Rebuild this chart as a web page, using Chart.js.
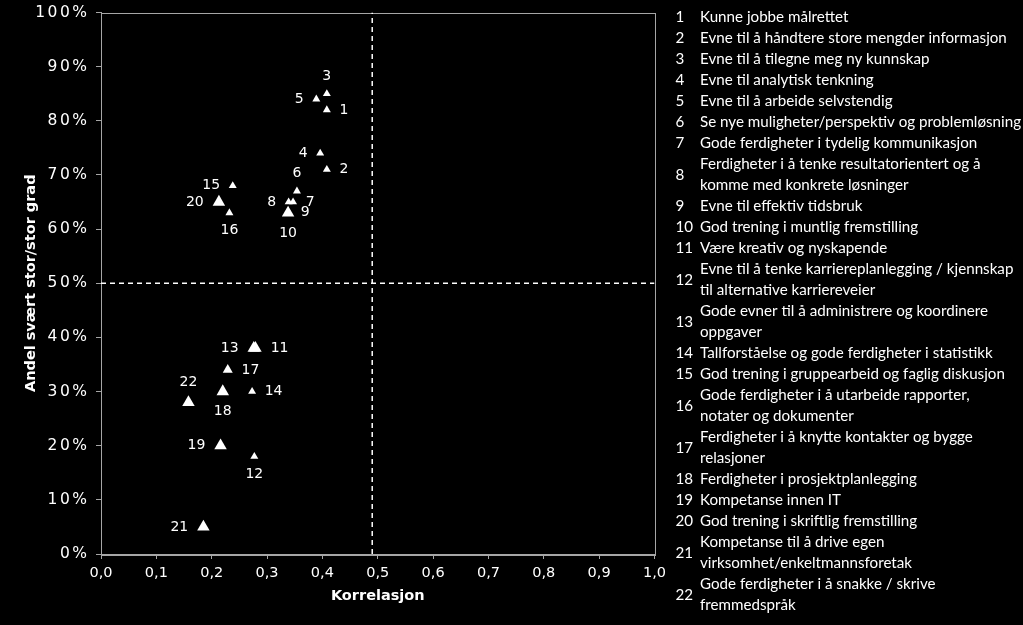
<!DOCTYPE html>
<html>
<head>
<meta charset="utf-8">
<title>Korrelasjon og andel</title>
<script src="https://cdn.jsdelivr.net/npm/chart.js@4"></script>
<style>
  body { margin: 0; background: #000; }
  #wrap { width: 1023px; height: 625px; }
</style>
</head>
<body>
<div id="wrap"><canvas id="chart"></canvas></div>
<script>
// data
const items = [
    'Kunne jobbe målrettet',
    'Evne til å håndtere store mengder informasjon',
    'Evne til å tilegne meg ny kunnskap',
    'Evne til analytisk tenkning',
    'Evne til å arbeide selvstendig',
    'Se nye muligheter/perspektiv og problemløsning',
    'Gode ferdigheter i tydelig kommunikasjon',
    'Ferdigheter i å tenke resultatorientert og å\nkomme med konkrete løsninger',
    'Evne til effektiv tidsbruk',
    'God trening i muntlig fremstilling',
    'Være kreativ og nyskapende',
    'Evne til å tenke karriereplanlegging / kjennskap\ntil alternative karriereveier',
    'Gode evner til å administrere og koordinere\noppgaver',
    'Tallforståelse og gode ferdigheter i statistikk',
    'God trening i gruppearbeid og faglig diskusjon',
    'Gode ferdigheter i å utarbeide rapporter,\nnotater og dokumenter',
    'Ferdigheter i å knytte kontakter og bygge\nrelasjoner',
    'Ferdigheter i prosjektplanlegging',
    'Kompetanse innen IT',
    'God trening i skriftlig fremstilling',
    'Kompetanse til å drive egen\nvirksomhet/enkeltmannsforetak',
    'Gode ferdigheter i å snakke / skrive\nfremmedspråk'
];
const korrelasjon = [0.408, 0.408, 0.408, 0.396, 0.389, 0.354, 0.347, 0.339, 0.338, 0.338, 0.279,
    0.277, 0.276, 0.273, 0.238, 0.232, 0.229, 0.220, 0.216, 0.213, 0.185, 0.158];
const andel = [82, 71, 85, 74, 84, 67, 65, 65, 63, 63, 38, 18, 38, 30, 68, 63, 34, 30, 20, 65, 5, 28];

// dashed dividers
const skilleX = 0.49;
const skilleY = 50;

const xTicks = [0, 0.1, 0.2, 0.3, 0.4, 0.5, 0.6, 0.7, 0.8, 0.9, 1.0];
const yTicks = [0, 10, 20, 30, 40, 50, 60, 70, 80, 90, 100];

// marker sizes and where each number sits
const bigMarkers = [10, 11, 13, 18, 19, 20, 21, 22];
const midMarkers = [17];
const labelPos = ['right', 'right', 'above', 'left', 'left', 'above', 'right', 'left', 'right', 'below',
    'right', 'below', 'left', 'right', 'left', 'below', 'right', 'below', 'left', 'left', 'left', 'above'];

const radiusFor = (n) => bigMarkers.includes(n) ? 7.2 : (midMarkers.includes(n) ? 5.8 : 4.6);

const axisColor = '#a6a6a6';
Chart.defaults.font.family = '"DejaVu Sans", Verdana, sans-serif';
Chart.defaults.color = '#fff';

// frame around the plot area
const frame = {
    id: 'frame',
    beforeDatasetsDraw(chart) {
        const a = chart.chartArea;
        const ctx = chart.ctx;
        ctx.save();
        ctx.strokeStyle = axisColor;
        ctx.lineWidth = 1;
        ctx.strokeRect(Math.round(a.left) + 0.5, Math.round(a.top) + 0.5,
            Math.round(a.right - a.left), Math.round(a.bottom - a.top));
        ctx.restore();
    }
};

// y tick labels are a bit looser in the original, so draw them here
const yLabels = {
    id: 'yLabels',
    afterDraw(chart) {
        const y = chart.scales.y;
        const ctx = chart.ctx;
        ctx.save();
        ctx.font = '15.5px "DejaVu Sans"';
        ctx.fillStyle = '#fff';
        ctx.textAlign = 'right';
        ctx.textBaseline = 'middle';
        ctx.letterSpacing = '2.5px';
        yTicks.forEach(v => {
            ctx.fillText(v + '%', 89.5, y.getPixelForValue(v));
        });
        ctx.restore();
    }
};

// numbers next to the triangles
const pointNumbers = {
    id: 'pointNumbers',
    afterDatasetsDraw(chart) {
        const meta = chart.getDatasetMeta(0);
        const ctx = chart.ctx;
        ctx.save();
        ctx.font = '14px "DejaVu Sans"';
        ctx.fillStyle = '#fff';
        ctx.textAlign = 'center';
        ctx.textBaseline = 'middle';
        meta.data.forEach((pt, i) => {
            const n = i + 1;
            const txt = String(n);
            const r = radiusFor(n);
            const w = ctx.measureText(txt).width;
            let x = pt.x, y = pt.y;
            if (labelPos[i] === 'right') x += r + 8 + w / 2;
            if (labelPos[i] === 'left') x -= r + 8 + w / 2;
            if (labelPos[i] === 'above') y -= r + 13;
            if (labelPos[i] === 'below') y += r + 13;
            ctx.fillText(txt, x, y);
        });
        ctx.restore();
    }
};

// the numbered list on the right
const itemList = {
    id: 'itemList',
    afterDraw(chart) {
        const ctx = chart.ctx;
        const family = 'Lato, "Open Sans", sans-serif';
        ctx.save();
        ctx.font = '15px ' + family;
        const size = 15 * 321 / ctx.measureText(items[5]).width;
        ctx.font = size.toFixed(2) + 'px ' + family;
        ctx.fillStyle = '#fff';
        ctx.textBaseline = 'middle';
        ctx.textAlign = 'left';
        let row = 0;
        const top = 17.5, step = 21;
        items.forEach((name, i) => {
            const lines = name.split('\n');
            const y0 = top + row * step;
            ctx.fillText(String(i + 1), 675.5, y0 + (lines.length - 1) * step / 2);
            lines.forEach((l, k) => ctx.fillText(l, 700, y0 + k * step));
            row += lines.length;
        });
        ctx.restore();
    }
};

const dashed = {
    showLine: true,
    borderColor: '#fff',
    borderWidth: 1.5,
    borderDash: [5, 4],
    pointRadius: 0,
    pointHoverRadius: 0
};

new Chart(document.getElementById('chart'), {
    type: 'scatter',
    data: {
        datasets: [
            {
                label: 'Ferdigheter',
                data: korrelasjon.map((x, i) => ({ x: x, y: andel[i] })),
                pointStyle: 'triangle',
                pointRadius: (c) => radiusFor(c.dataIndex + 1),
                pointBackgroundColor: '#fff',
                pointBorderColor: '#fff',
                pointBorderWidth: 0
            },
            Object.assign({ data: [{ x: skilleX, y: 0 }, { x: skilleX, y: 100 }] }, dashed),
            Object.assign({ data: [{ x: 0, y: skilleY }, { x: 1, y: skilleY }] }, dashed)
        ]
    },
    options: {
        responsive: true,
        maintainAspectRatio: false,
        animation: false,
        layout: { padding: { left: 0, top: 12.5, right: 368.5, bottom: 0 } },
        plugins: { legend: { display: false }, tooltip: { enabled: false } },
        scales: {
            x: {
                type: 'linear',
                min: 0,
                max: 1,
                afterBuildTicks: (s) => { s.ticks = xTicks.map(v => ({ value: v })); },
                ticks: {
                    color: '#fff',
                    font: { size: 14.5 },
                    padding: 6,
                    maxRotation: 0,
                    callback: (v) => v.toFixed(1).replace('.', ',')
                },
                grid: { drawOnChartArea: false, tickLength: 5, color: axisColor },
                border: { color: axisColor },
                title: {
                    display: true,
                    text: 'Korrelasjon',
                    color: '#fff',
                    font: { size: 14.5, weight: 'bold' },
                    padding: { top: 0, bottom: 20 }
                },
                afterFit: (s) => { s.height = 71; s.paddingLeft = 0; s.paddingRight = 0; }
            },
            y: {
                min: 0,
                max: 100,
                afterBuildTicks: (s) => { s.ticks = yTicks.map(v => ({ value: v })); },
                ticks: { display: false },
                grid: { drawOnChartArea: false, tickLength: 5, color: axisColor },
                border: { color: axisColor },
                title: {
                    display: true,
                    text: 'Andel svært stor/stor grad',
                    color: '#fff',
                    font: { size: 14.5, weight: 'bold' },
                    padding: { top: 23, bottom: 0 }
                },
                afterFit: (s) => { s.width = 101; s.paddingTop = 0; s.paddingBottom = 0; }
            }
        }
    },
    plugins: [frame, yLabels, pointNumbers, itemList]
});
</script>
</body>
</html>
